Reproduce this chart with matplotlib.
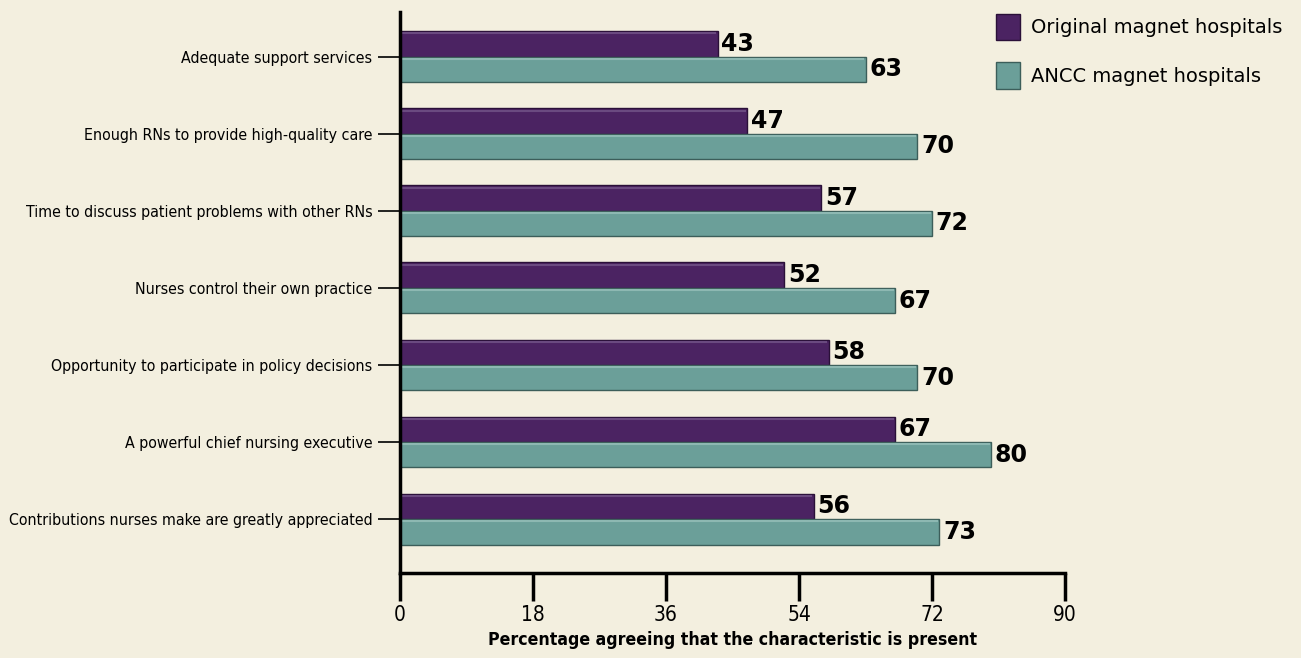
import matplotlib.pyplot as plt
import matplotlib.font_manager as fm
import numpy as np
from matplotlib.patches import Patch

# Data
categories = [
    "Adequate support services",
    "Enough RNs to provide high-quality care",
    "Time to discuss patient problems with other RNs",
    "Nurses control their own practice",
    "Opportunity to participate in policy decisions",
    "A powerful chief nursing executive",
    "Contributions nurses make are greatly appreciated",
]
original = [43, 47, 57, 52, 58, 67, 56]
ancc = [63, 70, 72, 67, 70, 80, 73]
xticks = [0, 18, 36, 54, 72, 90]

bg = "#f3efdf"
purple = "#4b2362"
teal = "#6b9f99"

# look for a condensed face, otherwise plain DejaVu
narrow_reg = None
narrow_bold = None
for f in fm.fontManager.ttflist:
    cond = ("Narrow" in f.name or "Condensed" in f.name or "Condensed" in f.fname
            or f.stretch in ("condensed", "semi-condensed", "extra-condensed"))
    if not cond or f.style != "normal":
        continue
    w = f.weight if isinstance(f.weight, int) else (700 if "bold" in str(f.weight) else 400)
    if w >= 600 and narrow_bold is None:
        narrow_bold = f.fname
    elif w < 600 and narrow_reg is None:
        narrow_reg = f.fname

def fp(bold=False, size=14):
    path = narrow_bold if bold else narrow_reg
    if path:
        return fm.FontProperties(fname=path, size=size)
    return fm.FontProperties(family="DejaVu Sans", weight="bold" if bold else "normal", size=size)

fig = plt.figure(figsize=(13.01, 6.58), dpi=100, facecolor=bg)
ax = fig.add_axes([0.3075, 0.129, 0.5111, 0.853])
ax.set_facecolor(bg)

y = np.arange(len(categories))
h = 0.33
b1 = ax.barh(y - h / 2, original, height=h, color=purple, edgecolor="#2a1038", linewidth=1)
b2 = ax.barh(y + h / 2, ancc, height=h, color=teal, edgecolor="#3c5e5a", linewidth=1)

# soft top edge on each bar for the raised look
for bars, hi in ((b1, "#6a4a80"), (b2, "#8db8b2")):
    for r in bars:
        ax.plot([0.2, r.get_width() - 0.2], [r.get_y() + 0.03] * 2, color=hi, lw=1.5, solid_capstyle="butt")

for bars in (b1, b2):
    for r in bars:
        ax.text(r.get_width() + 0.5, r.get_y() + r.get_height() / 2, f"{r.get_width():.0f}",
                va="center", ha="left", fontsize=17, fontweight="bold", color="black")

ax.set_xlim(0, 90)
ax.set_ylim(len(categories) - 1 + 0.70, -0.58)
ax.set_xticks(xticks)
ax.set_xticklabels([str(t) for t in xticks])
ax.set_yticks(y)
ax.set_yticklabels(categories)
ax.tick_params(axis="x", length=20, width=2.5, pad=3)
ax.tick_params(axis="y", length=16, width=1.2, pad=4)

for s in ["top", "right"]:
    ax.spines[s].set_visible(False)
ax.spines["left"].set_linewidth(2.5)
ax.spines["bottom"].set_linewidth(2.5)

xl = ax.set_xlabel("Percentage agreeing that the characteristic is present", labelpad=4)

# fit label sizes to the widths seen in the chart
fig.canvas.draw()
r = fig.canvas.get_renderer()
size = 15
for t in ax.get_yticklabels():
    t.set_fontproperties(fp(False, size))
longest = max(t.get_window_extent(r).width for t in ax.get_yticklabels())
size = min(16, size * 366 / longest)
for t in ax.get_yticklabels():
    t.set_fontproperties(fp(False, size))
for t in ax.get_xticklabels():
    t.set_fontproperties(fp(False, 15))
xl.set_fontproperties(fp(True, 16))
wl = xl.get_window_extent(r).width
xl.set_fontproperties(fp(True, min(17, 16 * 490 / wl)))

handles = [Patch(facecolor=purple, edgecolor="#2a1038"), Patch(facecolor=teal, edgecolor="#3c5e5a")]
fig.legend(handles, ["Original magnet hospitals", "ANCC magnet hospitals"],
           loc="upper left", bbox_to_anchor=(0.752, 1.006), frameon=False,
           fontsize=14, handlelength=1.25, handleheight=1.75, labelspacing=1.1, handletextpad=0.55)

fig.savefig("out.png", dpi=100, facecolor=bg)
